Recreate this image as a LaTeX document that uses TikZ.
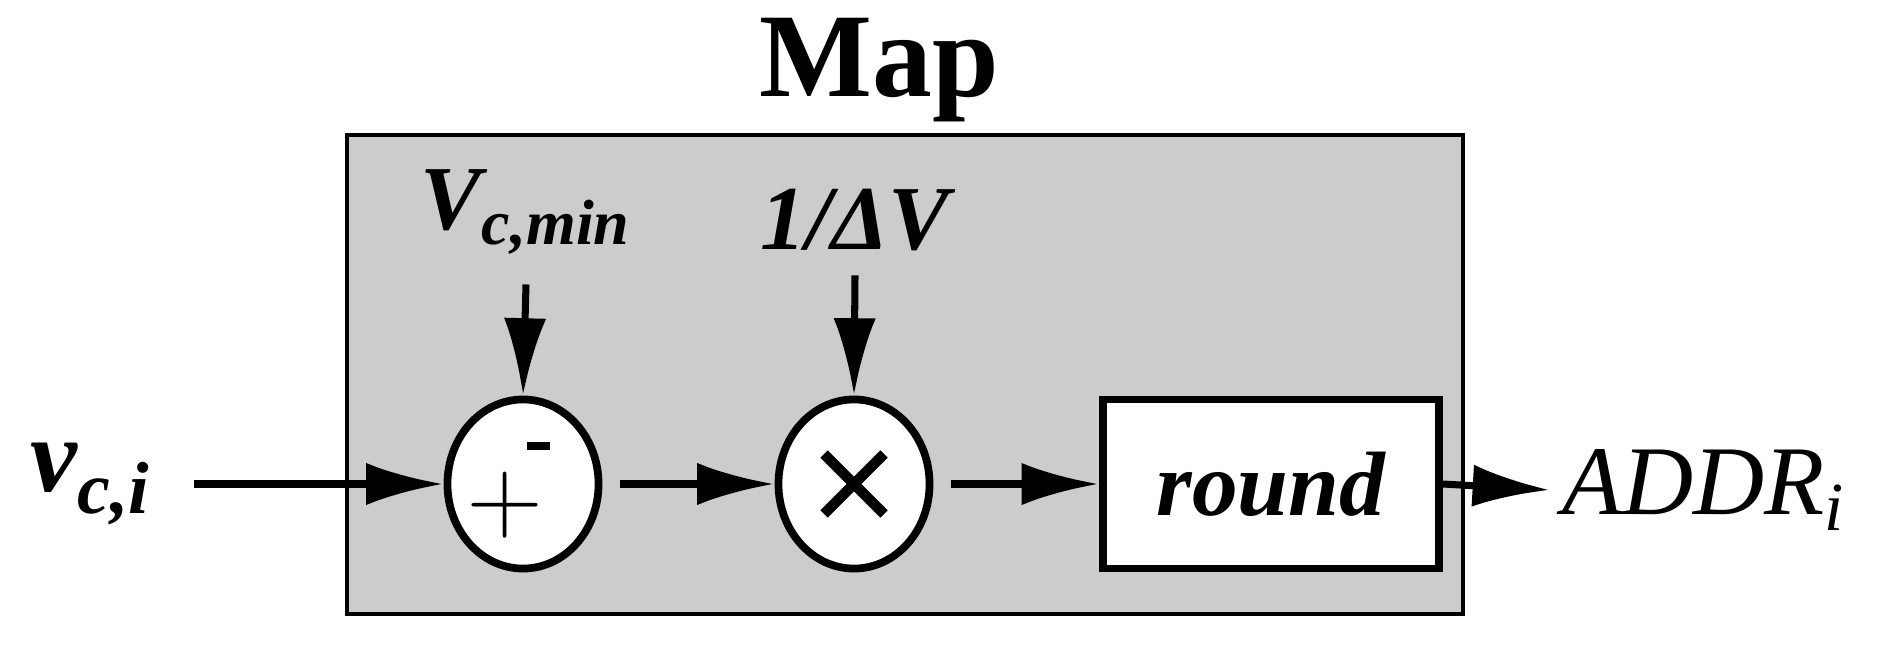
\documentclass[tikz,border=0pt]{standalone}
\usepackage{fontspec}
\setmainfont{Liberation Serif}
\usetikzlibrary{arrows.meta,shapes.geometric}
\begin{document}
\begin{tikzpicture}[x=0.01cm,y=-0.01cm,
	blk/.style={draw,line width=2.2pt,fill=white},
	op/.style={blk,ellipse,minimum width=1.51cm,minimum height=1.69cm,inner sep=0pt},
	sig/.style={line width=2pt,-{Latex[length=22pt,width=12pt]}},
	lbl/.style={font=\fontsize{26}{30}\selectfont\bfseries\itshape}]
	\useasboundingbox (0,0) rectangle (1895,645);
	%MAP BLOCK
	\draw[fill=black!20,line width=1pt] (347,135) rectangle (1463,614);
	\node[font=\fontsize{34}{38}\selectfont\bfseries] (title) at (879,70) {Map};
	%OPERATORS
	\node[op] (sub) at (523,484) {};
	\node[font=\fontsize{30}{30}\selectfont\sffamily] at (505,505) {+};
	\draw[line width=2.5pt] (527,446) -- (550,446);
	\node[op] (mul) at (854,484) {};
	\draw[line width=3pt] (824,454) -- (884,514) (884,454) -- (824,514);
	\node[blk,minimum width=3.36cm,minimum height=1.69cm,lbl] (rnd) at (1271,484) {round};
	%INPUTS
	\node[lbl] (vmin) at (526,212) {V\textsubscript{c,min}};
	\node[lbl] (dv) at (855,220) {1/ΔV};
	\node[lbl,font=\fontsize{30}{34}\selectfont\bfseries\itshape] (vin) at (91,484) {v\textsubscript{c,i}};
	\node[font=\fontsize{28}{32}\selectfont\itshape,anchor=west] (addr) at (1550,490) {ADDR\textsubscript{i}};
	%SIGNALS
	\draw[sig] (vin.east) ++(30,0) -- (sub.west);
	\draw[sig] (vmin.south) ++(0,18) -- (sub.north);
	\draw[sig] (dv.south) ++(0,12) -- (mul.north);
	\draw[sig] (sub.east) ++(18,0) -- (mul.west);
	\draw[sig] (mul.east) ++(18,0) -- (rnd.west);
	\draw[sig] (rnd.east) -- (addr.west);
\end{tikzpicture}
\end{document}
